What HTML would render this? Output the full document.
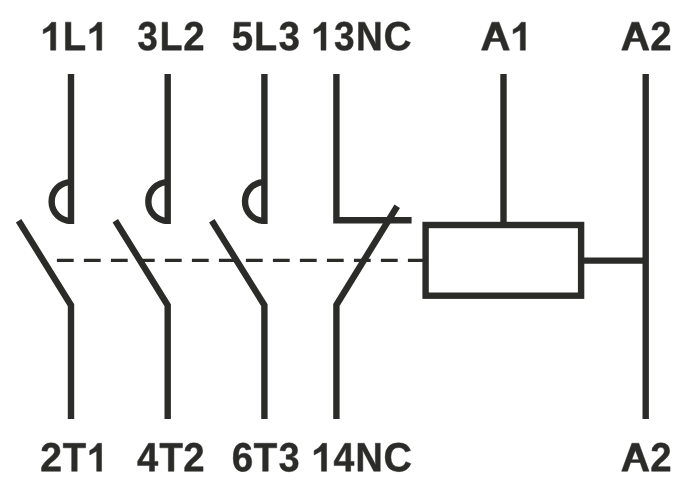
<!DOCTYPE html>
<html><head><meta charset="utf-8"><style>
html,body{margin:0;padding:0;background:#fff;width:700px;height:500px;overflow:hidden}
svg{display:block}
</style></head><body>
<svg width="700" height="500" viewBox="0 0 700 500">
<rect width="700" height="500" fill="#fff"/>
<g fill="none" stroke="#2b2b2a" stroke-width="6.4" stroke-linecap="butt" stroke-linejoin="miter" stroke-miterlimit="10">
<path d="M71 74V224.1M167.7 74V224.1M264.4 74V224.1"/>
<path d="M71 182.1A19.4 19.4 0 0 0 71 220.9M167.7 182.1A19.4 19.4 0 0 0 167.7 220.9M264.4 182.1A19.4 19.4 0 0 0 264.4 220.9"/>
<path d="M18.6 220.7L71 305.2V419"/>
<path d="M115.3 220.7L167.7 305.2V419"/>
<path d="M211.8 220.7L264.4 305.2V419"/>
<path d="M336.4 74V220.2H411.6"/>
<path d="M397.2 206.2L336.4 305V419"/>
<path d="M503.5 74V225"/>
<path d="M645.7 74V419"/>
<rect x="425.6" y="225" width="155.5" height="70.7"/>
<path d="M581.1 260.6H645.7"/>
</g>
<path d="M56.9 260.35H425.6" fill="none" stroke="#2b2b2a" stroke-width="3.2" stroke-dasharray="16.8 10.2"/>
<g fill="#2b2b2a" stroke="#2b2b2a" stroke-width="0.5" stroke-linejoin="round">
<path vector-effect="non-scaling-stroke" transform="matrix(0.02075 0 0 -0.01987 55.75 50.15)" d="M0.0 0.0L0.0 1404.1L-204.1 1404.1Q-364.4 1136.9 -602.5 1039.7L-602.5 821.1L-247.8 1015.5L-247.8 0.0Z"/>
<path vector-effect="non-scaling-stroke" transform="matrix(0.01855 0 0 -0.01987 62.91 50.15)" d="M137 0V1409H432V228H1188V0Z"/>
<path vector-effect="non-scaling-stroke" transform="matrix(0.01992 0 0 -0.01987 101.75 50.15)" d="M0.0 0.0L0.0 1404.1L-204.1 1404.1Q-364.4 1136.9 -602.5 1039.7L-602.5 821.1L-247.8 1015.5L-247.8 0.0Z"/>
<path vector-effect="non-scaling-stroke" transform="matrix(0.01778 0 0 -0.01987 137.51 50.15)" d="M1065 391Q1065 193 935.0 85.0Q805 -23 565 -23Q338 -23 204.0 81.5Q70 186 47 383L333 408Q360 205 564 205Q665 205 721.0 255.0Q777 305 777 408Q777 502 709.0 552.0Q641 602 507 602H409V829H501Q622 829 683.0 878.5Q744 928 744 1020Q744 1107 695.5 1156.5Q647 1206 554 1206Q467 1206 413.5 1158.0Q360 1110 352 1022L71 1042Q93 1224 222.0 1327.0Q351 1430 559 1430Q780 1430 904.5 1330.5Q1029 1231 1029 1055Q1029 923 951.5 838.0Q874 753 728 725V721Q890 702 977.5 614.5Q1065 527 1065 391Z"/>
<path vector-effect="non-scaling-stroke" transform="matrix(0.01827 0 0 -0.01987 159.65 50.15)" d="M137 0V1409H432V228H1188V0Z"/>
<path vector-effect="non-scaling-stroke" transform="matrix(0.01866 0 0 -0.01987 183.33 50.15)" d="M71 0V195Q126 316 227.5 431.0Q329 546 483 671Q631 791 690.5 869.0Q750 947 750 1022Q750 1206 565 1206Q475 1206 427.5 1157.5Q380 1109 366 1012L83 1028Q107 1224 229.5 1327.0Q352 1430 563 1430Q791 1430 913.0 1326.0Q1035 1222 1035 1034Q1035 935 996.0 855.0Q957 775 896.0 707.5Q835 640 760.5 581.0Q686 522 616.0 466.0Q546 410 488.5 353.0Q431 296 403 231H1057V0Z"/>
<path vector-effect="non-scaling-stroke" transform="matrix(0.01874 0 0 -0.01987 231.77 50.15)" d="M1082 469Q1082 245 942.5 112.5Q803 -20 560 -20Q348 -20 220.5 75.5Q93 171 63 352L344 375Q366 285 422.0 244.0Q478 203 563 203Q668 203 730.5 270.0Q793 337 793 463Q793 574 734.0 640.5Q675 707 569 707Q452 707 378 616H104L153 1409H1000V1200H408L385 844Q487 934 640 934Q841 934 961.5 809.0Q1082 684 1082 469Z"/>
<path vector-effect="non-scaling-stroke" transform="matrix(0.01836 0 0 -0.01987 254.13 50.15)" d="M137 0V1409H432V228H1188V0Z"/>
<path vector-effect="non-scaling-stroke" transform="matrix(0.01866 0 0 -0.01987 278.67 50.15)" d="M1065 391Q1065 193 935.0 85.0Q805 -23 565 -23Q338 -23 204.0 81.5Q70 186 47 383L333 408Q360 205 564 205Q665 205 721.0 255.0Q777 305 777 408Q777 502 709.0 552.0Q641 602 507 602H409V829H501Q622 829 683.0 878.5Q744 928 744 1020Q744 1107 695.5 1156.5Q647 1206 554 1206Q467 1206 413.5 1158.0Q360 1110 352 1022L71 1042Q93 1224 222.0 1327.0Q351 1430 559 1430Q780 1430 904.5 1330.5Q1029 1231 1029 1055Q1029 923 951.5 838.0Q874 753 728 725V721Q890 702 977.5 614.5Q1065 527 1065 391Z"/>
<path vector-effect="non-scaling-stroke" transform="matrix(0.01992 0 0 -0.01987 325.95 50.15)" d="M0.0 0.0L0.0 1404.1L-204.1 1404.1Q-364.4 1136.9 -602.5 1039.7L-602.5 821.1L-247.8 1015.5L-247.8 0.0Z"/>
<path vector-effect="non-scaling-stroke" transform="matrix(0.01798 0 0 -0.01987 334.11 50.15)" d="M1065 391Q1065 193 935.0 85.0Q805 -23 565 -23Q338 -23 204.0 81.5Q70 186 47 383L333 408Q360 205 564 205Q665 205 721.0 255.0Q777 305 777 408Q777 502 709.0 552.0Q641 602 507 602H409V829H501Q622 829 683.0 878.5Q744 928 744 1020Q744 1107 695.5 1156.5Q647 1206 554 1206Q467 1206 413.5 1158.0Q360 1110 352 1022L71 1042Q93 1224 222.0 1327.0Q351 1430 559 1430Q780 1430 904.5 1330.5Q1029 1231 1029 1055Q1029 923 951.5 838.0Q874 753 728 725V721Q890 702 977.5 614.5Q1065 527 1065 391Z"/>
<path vector-effect="non-scaling-stroke" transform="matrix(0.01802 0 0 -0.01987 356.08 50.15)" d="M995 0 381 1085Q399 927 399 831V0H137V1409H474L1097 315Q1079 466 1079 590V1409H1341V0Z"/>
<path vector-effect="non-scaling-stroke" transform="matrix(0.01882 0 0 -0.01987 383.67 50.15)" d="M795 212Q1062 212 1166 480L1423 383Q1340 179 1179.5 79.5Q1019 -20 795 -20Q455 -20 269.5 172.5Q84 365 84 711Q84 1058 263.0 1244.0Q442 1430 782 1430Q1030 1430 1186.0 1330.5Q1342 1231 1405 1038L1145 967Q1112 1073 1015.5 1135.5Q919 1198 788 1198Q588 1198 484.5 1074.0Q381 950 381 711Q381 468 487.5 340.0Q594 212 795 212Z"/>
<path vector-effect="non-scaling-stroke" transform="matrix(0.02038 0 0 -0.01987 480.41 50.15)" d="M1133 0L980 440L499 440L346 0L51 0L565 1409L913 1409L1425 0Z M739 1058L559 582L919 582Z"/>
<path vector-effect="non-scaling-stroke" transform="matrix(0.02025 0 0 -0.01987 525.35 50.15)" d="M0.0 0.0L0.0 1404.1L-204.1 1404.1Q-364.4 1136.9 -602.5 1039.7L-602.5 821.1L-247.8 1015.5L-247.8 0.0Z"/>
<path vector-effect="non-scaling-stroke" transform="matrix(0.01994 0 0 -0.01987 620.63 50.15)" d="M1133 0L980 440L499 440L346 0L51 0L565 1409L913 1409L1425 0Z M739 1058L559 582L919 582Z"/>
<path vector-effect="non-scaling-stroke" transform="matrix(0.01866 0 0 -0.01987 650.33 50.15)" d="M71 0V195Q126 316 227.5 431.0Q329 546 483 671Q631 791 690.5 869.0Q750 947 750 1022Q750 1206 565 1206Q475 1206 427.5 1157.5Q380 1109 366 1012L83 1028Q107 1224 229.5 1327.0Q352 1430 563 1430Q791 1430 913.0 1326.0Q1035 1222 1035 1034Q1035 935 996.0 855.0Q957 775 896.0 707.5Q835 640 760.5 581.0Q686 522 616.0 466.0Q546 410 488.5 353.0Q431 296 403 231H1057V0Z"/>
<path vector-effect="non-scaling-stroke" transform="matrix(0.01917 0 0 -0.01987 40.19 471.25)" d="M71 0V195Q126 316 227.5 431.0Q329 546 483 671Q631 791 690.5 869.0Q750 947 750 1022Q750 1206 565 1206Q475 1206 427.5 1157.5Q380 1109 366 1012L83 1028Q107 1224 229.5 1327.0Q352 1430 563 1430Q791 1430 913.0 1326.0Q1035 1222 1035 1034Q1035 935 996.0 855.0Q957 775 896.0 707.5Q835 640 760.5 581.0Q686 522 616.0 466.0Q546 410 488.5 353.0Q431 296 403 231H1057V0Z"/>
<path vector-effect="non-scaling-stroke" transform="matrix(0.01857 0 0 -0.01987 62.82 471.25)" d="M773 1181V0H478V1181H23V1409H1229V1181Z"/>
<path vector-effect="non-scaling-stroke" transform="matrix(0.01959 0 0 -0.01987 101.55 471.25)" d="M0.0 0.0L0.0 1404.1L-204.1 1404.1Q-364.4 1136.9 -602.5 1039.7L-602.5 821.1L-247.8 1015.5L-247.8 0.0Z"/>
<path vector-effect="non-scaling-stroke" transform="matrix(0.01851 0 0 -0.01987 137.08 471.25)" d="M940 287V0H672V287H31V498L626 1409H940V496H1128V287ZM672 957Q672 1011 675.5 1074.0Q679 1137 681 1155Q655 1099 587 993L260 496H672Z"/>
<path vector-effect="non-scaling-stroke" transform="matrix(0.01874 0 0 -0.01987 159.42 471.25)" d="M773 1181V0H478V1181H23V1409H1229V1181Z"/>
<path vector-effect="non-scaling-stroke" transform="matrix(0.01866 0 0 -0.01987 183.33 471.25)" d="M71 0V195Q126 316 227.5 431.0Q329 546 483 671Q631 791 690.5 869.0Q750 947 750 1022Q750 1206 565 1206Q475 1206 427.5 1157.5Q380 1109 366 1012L83 1028Q107 1224 229.5 1327.0Q352 1430 563 1430Q791 1430 913.0 1326.0Q1035 1222 1035 1034Q1035 935 996.0 855.0Q957 775 896.0 707.5Q835 640 760.5 581.0Q686 522 616.0 466.0Q546 410 488.5 353.0Q431 296 403 231H1057V0Z"/>
<path vector-effect="non-scaling-stroke" transform="matrix(0.01869 0 0 -0.01987 231.85 471.25)" d="M1065 461Q1065 236 939.0 108.0Q813 -20 591 -20Q342 -20 208.5 154.5Q75 329 75 672Q75 1049 210.5 1239.5Q346 1430 598 1430Q777 1430 880.5 1351.0Q984 1272 1027 1106L762 1069Q724 1208 592 1208Q479 1208 414.5 1095.0Q350 982 350 752Q395 827 475.0 867.0Q555 907 656 907Q845 907 955.0 787.0Q1065 667 1065 461ZM783 453Q783 573 727.5 636.5Q672 700 575 700Q482 700 426.0 640.5Q370 581 370 483Q370 360 428.5 279.5Q487 199 582 199Q677 199 730.0 266.5Q783 334 783 453Z"/>
<path vector-effect="non-scaling-stroke" transform="matrix(0.01874 0 0 -0.01987 253.72 471.25)" d="M773 1181V0H478V1181H23V1409H1229V1181Z"/>
<path vector-effect="non-scaling-stroke" transform="matrix(0.01837 0 0 -0.01987 278.69 471.25)" d="M1065 391Q1065 193 935.0 85.0Q805 -23 565 -23Q338 -23 204.0 81.5Q70 186 47 383L333 408Q360 205 564 205Q665 205 721.0 255.0Q777 305 777 408Q777 502 709.0 552.0Q641 602 507 602H409V829H501Q622 829 683.0 878.5Q744 928 744 1020Q744 1107 695.5 1156.5Q647 1206 554 1206Q467 1206 413.5 1158.0Q360 1110 352 1022L71 1042Q93 1224 222.0 1327.0Q351 1430 559 1430Q780 1430 904.5 1330.5Q1029 1231 1029 1055Q1029 923 951.5 838.0Q874 753 728 725V721Q890 702 977.5 614.5Q1065 527 1065 391Z"/>
<path vector-effect="non-scaling-stroke" transform="matrix(0.02058 0 0 -0.01987 326.55 471.25)" d="M0.0 0.0L0.0 1404.1L-204.1 1404.1Q-364.4 1136.9 -602.5 1039.7L-602.5 821.1L-247.8 1015.5L-247.8 0.0Z"/>
<path vector-effect="non-scaling-stroke" transform="matrix(0.01814 0 0 -0.01987 333.59 471.25)" d="M940 287V0H672V287H31V498L626 1409H940V496H1128V287ZM672 957Q672 1011 675.5 1074.0Q679 1137 681 1155Q655 1099 587 993L260 496H672Z"/>
<path vector-effect="non-scaling-stroke" transform="matrix(0.01852 0 0 -0.01987 355.41 471.25)" d="M995 0 381 1085Q399 927 399 831V0H137V1409H474L1097 315Q1079 466 1079 590V1409H1341V0Z"/>
<path vector-effect="non-scaling-stroke" transform="matrix(0.01919 0 0 -0.01987 383.54 471.25)" d="M795 212Q1062 212 1166 480L1423 383Q1340 179 1179.5 79.5Q1019 -20 795 -20Q455 -20 269.5 172.5Q84 365 84 711Q84 1058 263.0 1244.0Q442 1430 782 1430Q1030 1430 1186.0 1330.5Q1342 1231 1405 1038L1145 967Q1112 1073 1015.5 1135.5Q919 1198 788 1198Q588 1198 484.5 1074.0Q381 950 381 711Q381 468 487.5 340.0Q594 212 795 212Z"/>
<path vector-effect="non-scaling-stroke" transform="matrix(0.01994 0 0 -0.01987 620.63 471.25)" d="M1133 0L980 440L499 440L346 0L51 0L565 1409L913 1409L1425 0Z M739 1058L559 582L919 582Z"/>
<path vector-effect="non-scaling-stroke" transform="matrix(0.01866 0 0 -0.01987 650.33 471.25)" d="M71 0V195Q126 316 227.5 431.0Q329 546 483 671Q631 791 690.5 869.0Q750 947 750 1022Q750 1206 565 1206Q475 1206 427.5 1157.5Q380 1109 366 1012L83 1028Q107 1224 229.5 1327.0Q352 1430 563 1430Q791 1430 913.0 1326.0Q1035 1222 1035 1034Q1035 935 996.0 855.0Q957 775 896.0 707.5Q835 640 760.5 581.0Q686 522 616.0 466.0Q546 410 488.5 353.0Q431 296 403 231H1057V0Z"/>
</g>
</svg>
</body></html>
